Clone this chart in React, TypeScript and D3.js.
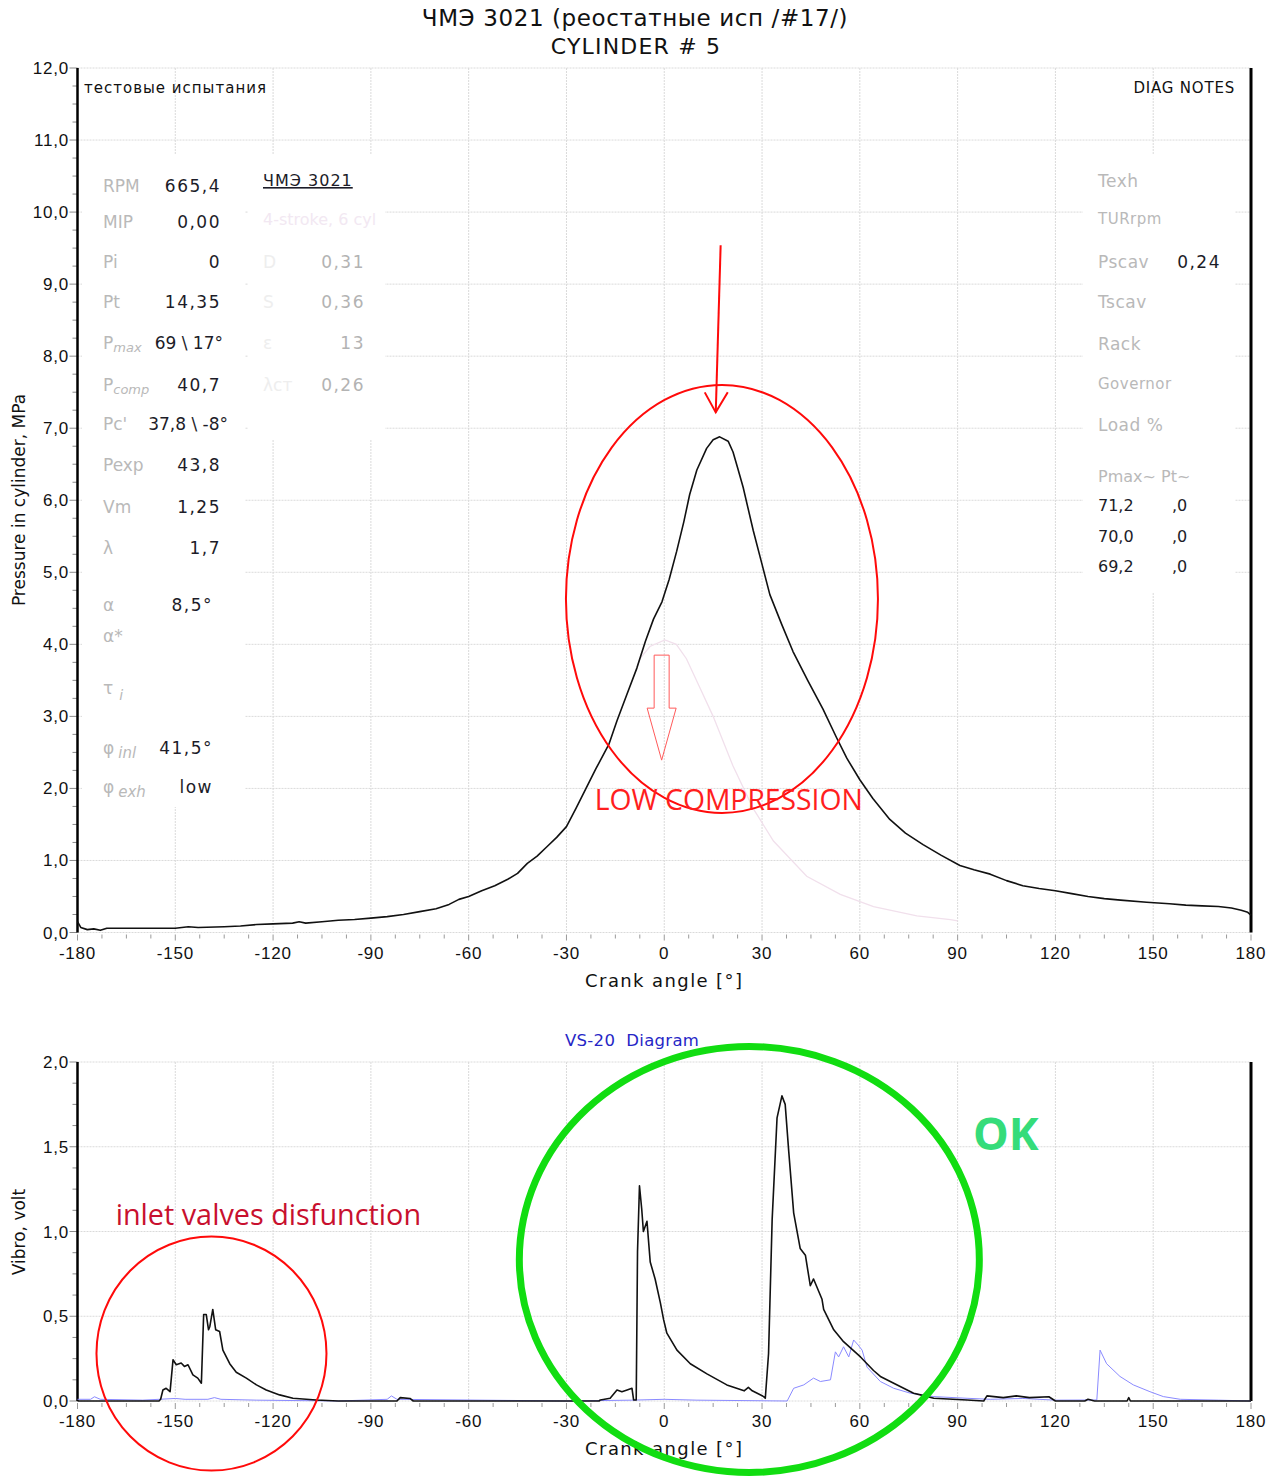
import React from "react";
import * as d3 from "d3";

// crank angle axis
const crankTicks = [-180, -150, -120, -90, -60, -30, 0, 30, 60, 90, 120, 150, 180];

// cylinder pressure, MPa (black trace)
const pressureAngles = [
  -180, -179, -177, -175, -173, -171, -165, -150, -146, -143, -135, -130, -125, -120, -114, -112,
  -110, -105, -100, -95, -90, -85, -80, -75, -70, -66, -63, -60, -56, -52, -48, -45, -42, -39, -36,
  -33, -30, -27, -24, -21, -17, -14.5, -11.5, -8.4, -5.8, -3.3, -0.7, 1.5, 3.8, 6, 7.8, 10, 13, 15,
  17, 19.6, 21.1, 22.5, 24.2, 27.3, 30, 32.4, 36, 39.5, 44, 48.7, 52.8, 56, 60, 64, 69.2, 74, 79.4,
  85, 90.7, 95, 100, 105, 110, 115, 120, 125, 130, 135, 140, 148, 155, 160, 165, 170, 174, 177, 179,
  180,
];
const pressureValues = [
  0.15, 0.07, 0.04, 0.05, 0.03, 0.06, 0.06, 0.06, 0.08, 0.07, 0.08, 0.09, 0.11, 0.12, 0.13, 0.15,
  0.13, 0.15, 0.17, 0.18, 0.2, 0.22, 0.25, 0.29, 0.33, 0.39, 0.46, 0.5, 0.58, 0.65, 0.74, 0.82, 0.96,
  1.06, 1.19, 1.32, 1.47, 1.73, 2.0, 2.27, 2.61, 2.94, 3.3, 3.67, 4.04, 4.35, 4.59, 4.9, 5.29, 5.7,
  6.08, 6.42, 6.72, 6.84, 6.88, 6.82, 6.67, 6.45, 6.18, 5.58, 5.11, 4.69, 4.28, 3.9, 3.5, 3.1, 2.71,
  2.42, 2.12, 1.86, 1.57, 1.38, 1.22, 1.07, 0.93, 0.87, 0.81, 0.72, 0.65, 0.61, 0.58, 0.54, 0.5, 0.47,
  0.45, 0.42, 0.4, 0.38, 0.37, 0.36, 0.34, 0.31, 0.28, 0.24,
];

// compression curve (faint trace)
const compressionAngles = [-8.4, -7.5, -4.4, 0.2, 3.7, 6.8, 10.9, 15, 21.1, 27.3, 33.5, 43.7, 54, 64.2, 77.5, 87.8, 90];
const compressionValues = [3.67, 3.8, 3.97, 4.06, 4.0, 3.8, 3.4, 3.0, 2.31, 1.72, 1.27, 0.78, 0.53, 0.36, 0.23, 0.18, 0.16];

// VS-20 vibration, volt (black trace)
const vibroAngles = [
  -180, -155, -154.5, -153.8, -152.8, -151.6, -150.7, -149.7, -148.2, -147.2, -146.1, -144.6, -143.1,
  -142, -141.3, -140.5, -139.8, -139.4, -138.5, -137.6, -136.4, -135.4, -133.3, -131.3, -128.2, -125.1,
  -122.1, -118, -113.9, -106.8, -100, -82, -81, -78, -77, -20, -19.6, -16.6, -14.5, -13, -11.4, -9.9,
  -9.4, -8.6, -8.2, -7.6, -6.9, -6.4, -5.3, -4.3, -2.8, -1.2, -0.2, 0.8, 3.9, 8, 13.1, 19.2, 24.5, 25.8,
  27, 30.5, 31, 32, 33.1, 34.6, 36.1, 37.1, 38.2, 39.7, 41.7, 43.3, 44.8, 45.8, 48.4, 48.9, 52, 55, 60.2,
  64.2, 66.3, 70.4, 76.5, 78.6, 82.7, 92.9, 98, 99, 104, 108, 112, 118, 120, 129, 130, 132, 142, 142.5,
  143, 180,
];
const vibroValues = [
  0, 0, 0.01, 0.065, 0.075, 0.055, 0.243, 0.214, 0.224, 0.204, 0.214, 0.154, 0.135, 0.105, 0.51, 0.51,
  0.42, 0.44, 0.54, 0.42, 0.41, 0.3, 0.22, 0.17, 0.135, 0.095, 0.065, 0.036, 0.016, 0.006, 0, 0, 0.02,
  0.015, 0, 0, 0.006, 0.016, 0.065, 0.055, 0.065, 0.075, 0.006, 0.006, 0.88, 1.27, 1.13, 1.0, 1.06, 0.82,
  0.72, 0.58, 0.48, 0.4, 0.3, 0.22, 0.16, 0.095, 0.06, 0.08, 0.06, 0.026, 0.016, 0.28, 1.07, 1.67, 1.8,
  1.75, 1.47, 1.11, 0.9, 0.86, 0.68, 0.72, 0.6, 0.54, 0.42, 0.35, 0.26, 0.18, 0.145, 0.105, 0.046, 0.036,
  0.016, 0.006, 0, 0.03, 0.02, 0.03, 0.02, 0.025, 0, 0, 0.01, 0, 0, 0.02, 0, 0,
];

// reference vibration (blue trace)
const vibroRefAngles = [
  -180, -176, -174.8, -173, -160, -150, -147, -140, -138, -136, -125, -100, -85, -83.7, -82, -30, -10,
  0, 10, 37.7, 39.7, 42.8, 45.8, 47.9, 51, 52.5, 53.5, 55, 56.6, 58.1, 59.5, 60.7, 62.2, 66.3, 70.4,
  75.5, 82.7, 92.9, 100, 110, 120, 132.7, 133.7, 135.7, 139.8, 143.9, 149, 153.1, 158.3, 170, 180,
];
const vibroRefValues = [
  0.01, 0.01, 0.025, 0.01, 0.005, 0.015, 0.01, 0.01, 0.02, 0.01, 0.005, 0, 0.01, 0.03, 0.01, 0, 0.005,
  0.01, 0.005, 0, 0.075, 0.095, 0.135, 0.115, 0.125, 0.29, 0.26, 0.32, 0.26, 0.36, 0.33, 0.3, 0.2, 0.115,
  0.075, 0.046, 0.026, 0.016, 0.01, 0.015, 0.005, 0.006, 0.3, 0.22, 0.145, 0.095, 0.055, 0.026, 0.01,
  0.005, 0,
];

// text panels
const paramLabels = ["RPM", "MIP", "Pi", "Pt", "Pmax", "Pcomp", "Pc'", "Pexp", "Vm", "λ", "α", "α*", "τ", "φinl", "φexh"];
const paramValues = ["665,4", "0,00", "0", "14,35", "69 \\ 17°", "40,7", "37,8 \\ -8°", "43,8", "1,25", "1,7", "8,5°", "", "", "41,5°", "low"];
const engineLabels = ["D", "S", "ε", "λст"];
const engineValues = ["0,31", "0,36", "13", "0,26"];
const diagLabels = ["Texh", "TURrpm", "Pscav", "Tscav", "Rack", "Governor", "Load %"];
const diagValues = ["", "", "0,24", "", "", "", ""];
const pmaxHistory = ["71,2", "70,0", "69,2"];
const ptHistory = [",0", ",0", ",0"];

const VERDANA = "'DejaVu Sans', Verdana, sans-serif";
const ARIAL = "'Liberation Sans', Arial, sans-serif";
const CALIBRI = "'Open Sans', 'Noto Sans', sans-serif";
const GRID = "#dadada";
const LABEL = "#b9b9b9";
const VALUE = "#1c1c28";

const x = d3.scaleLinear().domain([-180, 180]).range([77.5, 1251]);
const yP = d3.scaleLinear().domain([0, 12]).range([932.5, 68]);
const yV = d3.scaleLinear().domain([0, 2]).range([1401, 1062]);
const fmt = (v: number) => d3.format(".1f")(v).replace(".", ",");

const pathOf = (xs: number[], ys: number[], y: d3.ScaleLinear<number, number>) =>
  d3
    .line<[number, number]>()
    .x((d) => x(d[0]))
    .y((d) => y(d[1]))(d3.zip(xs, ys) as [number, number][]) || "";

type FrameProps = {
  y: d3.ScaleLinear<number, number>;
  majorStep: number;
  minorStep: number;
  axisTitle: string;
  titleCenter: number;
};

const Frame = ({ y, majorStep, minorStep, axisTitle, titleCenter }: FrameProps) => {
  const [y0, y1] = y.domain();
  const major = d3.range(y0, y1 + 1e-6, majorStep);
  const minor = d3.range(y0, y1 + 1e-6, minorStep);
  const xMinor = d3.range(-180, 180.01, 7.5);
  const bottom = y(y0);
  const top = y(y1);
  return (
    <g>
      {major.map((v) => (
        <line key={"h" + v} x1={x(-180)} x2={x(180)} y1={y(v)} y2={y(v)} stroke={GRID} strokeDasharray="2,1" />
      ))}
      {crankTicks.map((t) => (
        <line key={"v" + t} x1={x(t)} x2={x(t)} y1={top} y2={bottom} stroke={GRID} strokeDasharray="2,1" />
      ))}
      {minor.map((v) => (
        <line key={"yt" + v} x1={x(-180) - (major.includes(v) ? 8 : 5)} x2={x(-180)} y1={y(v)} y2={y(v)} stroke="#8a8a8a" />
      ))}
      {xMinor.map((t) => (
        <line key={"xt" + t} x1={x(t)} x2={x(t)} y1={bottom + 2} y2={bottom + (t % 30 === 0 ? 8 : 6)} stroke="#9a9a9a" />
      ))}
      {major.map((v) => (
        <text key={"yl" + v} x={69} y={y(v) + 6} textAnchor="end" fontFamily={ARIAL} fontSize={17} letterSpacing={0.8} fill="#111">
          {fmt(v)}
        </text>
      ))}
      {crankTicks.map((t) => (
        <text key={"xl" + t} x={x(t)} y={bottom + 26} textAnchor="middle" fontFamily={ARIAL} fontSize={17} letterSpacing={0.8} fill="#111">
          {t}
        </text>
      ))}
      <text x={x(0)} y={bottom + 54} textAnchor="middle" fontFamily={VERDANA} fontSize={18} letterSpacing={1.4} fill="#111">
        Crank angle [°]
      </text>
      <text
        transform={`translate(25,${titleCenter}) rotate(-90)`}
        textAnchor="middle"
        fontFamily={VERDANA}
        fontSize={17}
        fill="#111"
      >
        {axisTitle}
      </text>
      <line x1={x(-180)} x2={x(-180)} y1={top} y2={bottom} stroke="#000" strokeWidth={2.5} />
      <line x1={x(180)} x2={x(180)} y1={top} y2={bottom} stroke="#000" strokeWidth={3} />
    </g>
  );
};

const paramRowY = [186, 222, 262, 302, 343, 385, 424, 465, 507, 548, 605, 636, 688, 748, 787];

const ParamLabel = ({ label, yy }: { label: string; yy: number }) => {
  const base = { x: 103, y: yy + 6, fontFamily: VERDANA, fontSize: 17, fill: LABEL };
  if (label === "Pmax" || label === "Pcomp")
    return (
      <text {...base}>
        P
        <tspan dy={3} fontSize={13} fontStyle="italic">
          {label.slice(1)}
        </tspan>
      </text>
    );
  if (label === "φinl" || label === "φexh")
    return (
      <text {...base}>
        φ
        <tspan dx={4} dy={4} fontSize={15} fontStyle="italic">
          {label.slice(1)}
        </tspan>
      </text>
    );
  if (label === "τ")
    return (
      <text {...base}>
        τ
        <tspan dx={6} dy={6} fontSize={14} fontStyle="italic">
          i
        </tspan>
      </text>
    );
  return <text {...base}>{label}</text>;
};

const valueEnd = (v: string) => (v.includes("\\ -") ? 228 : v.includes("\\") ? 223 : v.includes("°") || v === "low" ? 213 : 221);

export default function App() {
  const pressurePath = pathOf(pressureAngles, pressureValues, yP);
  const compressionPath = pathOf(compressionAngles, compressionValues, yP);
  const vibroPath = pathOf(vibroAngles, vibroValues, yV);
  const vibroRefPath = pathOf(vibroRefAngles, vibroRefValues, yV);

  // annotation anchors, in data units
  const ax = x(-0.8);
  const ay = yP(3.85);
  const tipX = x(15.8);
  const tipY = yP(7.22);

  return (
    <svg width={1280} height={1477} style={{ position: "absolute", left: 0, top: 0, background: "#fff" }}>
      <rect width={1280} height={1477} fill="#fff" />
      <text x={635} y={26} textAnchor="middle" fontFamily={VERDANA} fontSize={23} letterSpacing={0.6} fill="#111">
        ЧМЭ 3021 (реостатные исп /#17/)
      </text>
      <text x={636} y={54} textAnchor="middle" fontFamily={VERDANA} fontSize={22} letterSpacing={1.2} fill="#111">
        CYLINDER # 5
      </text>

      <Frame y={yP} majorStep={1} minorStep={0.25} axisTitle="Pressure in cylinder, MPa" titleCenter={500} />

      {/* text panels cover the grid */}
      <rect x={82} y={155} width={163} height={652} fill="#fff" />
      <rect x={248} y={155} width={137} height={285} fill="#fff" />
      <rect x={1083} y={155} width={152} height={437} fill="#fff" />

      <text x={84} y={93} fontFamily={VERDANA} fontSize={15} letterSpacing={1} fill="#111">
        тестовые испытания
      </text>
      <text x={1235} y={93} textAnchor="end" fontFamily={VERDANA} fontSize={15} letterSpacing={0.8} fill="#111">
        DIAG NOTES
      </text>

      {paramLabels.map((l, i) => (
        <ParamLabel key={l} label={l} yy={paramRowY[i]} />
      ))}
      {paramValues.map((v, i) => (
        <text
          key={"pv" + i}
          x={valueEnd(v)}
          y={paramRowY[i] + 6}
          textAnchor="end"
          fontFamily={VERDANA}
          fontSize={17}
          letterSpacing={v.includes("\\") ? 0 : 1.5}
          fill={VALUE}
        >
          {v}
        </text>
      ))}

      <text x={263} y={186} fontFamily={VERDANA} fontSize={16} letterSpacing={1} fill={VALUE} textDecoration="underline">
        ЧМЭ 3021
      </text>
      <text x={263} y={225} fontFamily={VERDANA} fontSize={16} fill="#f2e8f2">
        4-stroke, 6 cyl
      </text>
      {engineLabels.map((l, i) => (
        <text key={l} x={263} y={paramRowY[i + 2] + 6} fontFamily={VERDANA} fontSize={17} fill="#eeeeee">
          {l}
        </text>
      ))}
      {engineValues.map((v, i) => (
        <text
          key={"ev" + i}
          x={365}
          y={paramRowY[i + 2] + 6}
          textAnchor="end"
          fontFamily={VERDANA}
          fontSize={17}
          letterSpacing={1.5}
          fill="#b3b3b3"
        >
          {v}
        </text>
      ))}

      {diagLabels.map((l, i) => (
        <text
          key={l}
          x={1098}
          y={[187, 224, 268, 308, 350, 389, 431][i]}
          fontFamily={VERDANA}
          fontSize={l === "TURrpm" || l === "Governor" ? 15 : 17}
          letterSpacing={0.5}
          fill={LABEL}
        >
          {l}
        </text>
      ))}
      {diagValues.map((v, i) =>
        v ? (
          <text key={"dv" + i} x={1221} y={[187, 224, 268][i]} textAnchor="end" fontFamily={VERDANA} fontSize={17} letterSpacing={1.5} fill={VALUE}>
            {v}
          </text>
        ) : null
      )}
      <text x={1098} y={482} fontFamily={VERDANA} fontSize={16} fill={LABEL}>
        Pmax~ Pt~
      </text>
      {pmaxHistory.map((v, i) => (
        <g key={"ph" + i} fontFamily={VERDANA} fontSize={16} fill={VALUE}>
          <text x={1098} y={511 + i * 30.5}>{v}</text>
          <text x={1172} y={511 + i * 30.5}>{ptHistory[i]}</text>
        </g>
      ))}

      <path d={compressionPath} fill="none" stroke="#f1e0ec" strokeWidth={1.3} />
      <path d={pressurePath} fill="none" stroke="#111" strokeWidth={1.6} strokeLinejoin="round" />

      {/* annotations: low compression */}
      <ellipse cx={x(17.7)} cy={yP(4.63)} rx={156} ry={214} fill="none" stroke="#ff0a0a" strokeWidth={2} />
      <line x1={x(17.3)} y1={yP(9.54)} x2={tipX} y2={tipY} stroke="#ff0a0a" strokeWidth={2} />
      <path d={`M${tipX - 11},${tipY - 20} L${tipX},${tipY} L${tipX + 12},${tipY - 20}`} fill="none" stroke="#ff0a0a" strokeWidth={2} />
      <path
        d={`M${ax - 7.5},${ay} L${ax + 7.5},${ay} L${ax + 7.5},${ay + 53} L${ax + 14.5},${ay + 53} L${ax},${ay + 105} L${ax - 14.5},${ay + 53} L${ax - 7.5},${ay + 53} Z`}
        fill="none"
        stroke="#ff5a5a"
        strokeWidth={1}
      />
      <text x={x(-21.3)} y={yP(1.7)} fontFamily={CALIBRI} fontSize={28.3} fill="#ff1e1e">
        LOW COMPRESSION
      </text>

      {/* vibration chart */}
      <text x={565} y={1046} fontFamily={VERDANA} fontSize={16.5} letterSpacing={0.3} fill="#2626c6" style={{ whiteSpace: "pre" }}>
        {"VS-20  Diagram"}
      </text>
      <Frame y={yV} majorStep={0.5} minorStep={0.125} axisTitle="Vibro, volt" titleCenter={1232} />
      <path d={vibroRefPath} fill="none" stroke="#8a8aff" strokeWidth={1} />
      <path d={vibroPath} fill="none" stroke="#111" strokeWidth={1.6} strokeLinejoin="round" />

      <text x={x(-168.3)} y={yV(1.04)} fontFamily={CALIBRI} fontSize={28.8} fill="#c8102e">
        inlet valves disfunction
      </text>
      <ellipse cx={x(-138.9)} cy={yV(0.28)} rx={115} ry={117} fill="none" stroke="#ff0a0a" strokeWidth={2} />
      <ellipse cx={x(26.1)} cy={yV(0.835)} rx={230} ry={213} fill="none" stroke="#11dd11" strokeWidth={7} />
      <text x={973} y={1150} fontFamily={CALIBRI} fontWeight="bold" fontSize={45} fill="#35dc7a">
        OK
      </text>
    </svg>
  );
}
